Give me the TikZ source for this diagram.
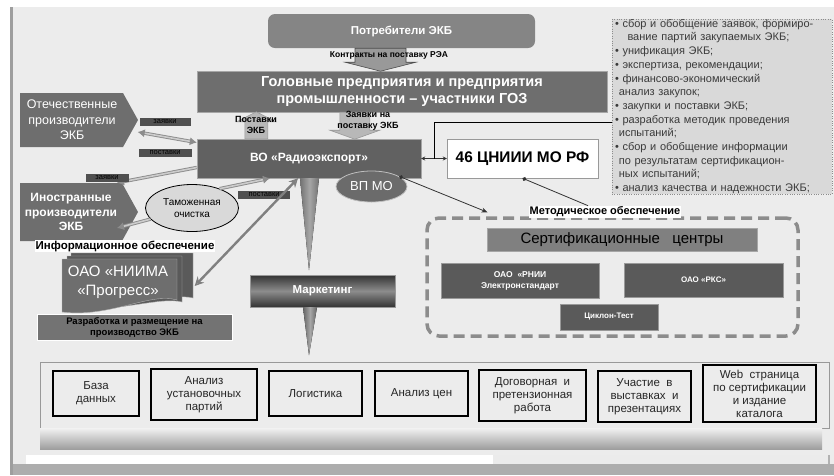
\documentclass[tikz,border=0pt]{standalone}
\usepackage{fontspec}
\setmainfont{Liberation Sans}
\usetikzlibrary{arrows.meta,shapes.geometric,calc}
\definecolor{panel}{HTML}{ECECEC}
\definecolor{potrc}{HTML}{858585}
\definecolor{dk}{HTML}{6E6E6E}
\definecolor{dk2}{HTML}{5A5A5A}
\definecolor{lbl}{HTML}{505050}
\definecolor{infofill}{HTML}{D9D9D9}
\definecolor{txtgray}{HTML}{3A3A3A}
\newcommand{\fz}[2]{\fontsize{#1}{#2}\selectfont}
\begin{document}
\begin{tikzpicture}[x=1pt,y=-1pt,
  box/.style={rectangle, inner sep=0pt, align=center},
  tag/.style={rectangle, fill=lbl, text=black, font=\fz{7.5}{8}, inner sep=1pt, minimum height=8},
  wlabel/.style={rectangle, fill=white, text=black, font=\fz{11.5}{12}\bfseries, inner sep=1pt},
  blk/.style={fill=#1, draw=black!70, line width=0.6pt},
  stripe/.style={draw=black!45, double=black!20, double distance=1.6pt, line width=0.9pt, -{Latex[length=7pt,width=8pt]}},
  bottombox/.style={box, draw=black, line width=1.1pt, font=\fz{11.5}{13}, text=black!85},
  subcert/.style={box, fill=dk2, draw=black!40, text=white, font=\fz{8.5}{11}\bfseries},
  thinarr/.style={draw=black!80, line width=0.8pt}
]
\useasboundingbox (0,0) rectangle (834,475);
% background panel
\fill[white] (0,0) rectangle (834,475);
\fill[black!32] (10,464) rectangle (834,475);
\fill[black!38] (10,7) rectangle (13,475);
\fill[panel] (13,7) rectangle (834,464);
\fill[white] (26,455) rectangle (493,464);
\fill[black!8] (493,455) rectangle (828,464);
\fill[black!30] (828,455) rectangle (830,464);

% info box
\node[box, draw=black!45, dotted, fill=infofill, minimum width=220, minimum height=167, anchor=center, text=txtgray,
  font=\fz{11}{13.7}, align=left, text width=214] (info) at (722,106.5)
{\textbullet~сбор и обобщение заявок, формиро-\\
\phantom{\textbullet~}\hspace{5pt}вание партий закупаемых ЭКБ;\\
\textbullet~унификация ЭКБ;\\
\textbullet~экспертиза, рекомендации;\\
\textbullet~финансово-экономический\\
\phantom{\textbullet}анализ закупок;\\
\textbullet~закупки и поставки ЭКБ;\\
\textbullet~разработка методик проведения\\
\phantom{\textbullet}испытаний;\\
\textbullet~сбор и обобщение информации\\
\phantom{\textbullet}по результатам сертификацион-\\
\phantom{\textbullet}ных испытаний;\\
\textbullet~анализ качества и надежности ЭКБ;};

% top nodes
\node[box, fill=potrc, rounded corners=7pt, minimum width=267, minimum height=34, font=\fz{11.5}{13}\bfseries, text=white] (potr) at (401.5,31) {Потребители ЭКБ};
\node[box, fill=dk, draw=black!35, minimum width=410, minimum height=41, font=\fz{14.5}{17}\bfseries, text=white] (golov) at (402,91.5)
  {Головные предприятия и предприятия\\промышленности -- участники ГОЗ};
\node[box, fill=black!62, draw=black!35, minimum width=224, minimum height=39, font=\fz{12}{14}\bfseries, text=white] (vo) at (309,158.5) {ВО «Радиоэкспорт»};
\node[box, fill=white, draw=black!40, minimum width=151, minimum height=39, font=\fz{15.4}{17}\bfseries, text=black] (cni) at (522.5,158.5) {46 ЦНИИИ МО РФ};

% block arrows
\draw[blk=black!40] ([xshift=-46.5pt]potr.south) -- ++(51,0) -- ++(0,14) -- ++(10,0) -- ++(-35.5,9) -- ++(-35.5,-9) -- ++(10,0) -- cycle;
\node[box, font=\fz{8.5}{10}\bfseries, text=black] (kontr) at (389,55) {Контракты на поставку РЭА};
\draw[fill=black!28, draw=black!40, line width=0.6pt] ([xshift=48pt]vo.north west) -- ++(23,0) -- ++(0,-17) -- ++(8,0) -- ++(-19.5,-10) -- ++(-19.5,10) -- ++(8,0) -- cycle;
\node[box, font=\fz{9}{10.5}\bfseries, text=black] (post) at (256,125) {Поставки\\ЭКБ};
\draw[fill=black!28, draw=black!40, line width=0.6pt] ([xshift=143pt]golov.south west) -- ++(30,0) -- ++(0,18) -- ++(10,0) -- ++(-25,9) -- ++(-25,-9) -- ++(10,0) -- cycle;
\node[box, font=\fz{9}{11}\bfseries, text=black] (zayav) at (368,121) {Заявки на\\поставку ЭКБ};

% VO - 46 and info connector
\draw[thinarr, {Stealth[length=4pt,width=4pt]}-{Stealth[length=4pt,width=4pt]}] (vo.east) -- (cni.west);
\coordinate (mid) at ($(vo.east)!0.5!(cni.west)$);
\draw[black, line width=1pt] (mid) |- ([yshift=-15.5pt]info.west);

% left side producers
\fill[dk] (20,93) -- (123,93) -- (138,120) -- (123,147) -- (20,147) -- cycle;
\node[box, minimum width=103, minimum height=54, font=\fz{12.5}{15.5}, text=white] (otech) at (72,120) {Отечественные\\производители\\ЭКБ};
\fill[dk] (20,183) -- (122,183) -- (138,212) -- (122,241) -- (20,241) -- cycle;
\node[box, minimum width=102, minimum height=58, font=\fz{12}{14.5}\bfseries, text=white] (inostr) at (71,212) {Иностранные\\производители\\ЭКБ};
\node[ellipse, fill=black!15, draw=black, line width=0.8pt, minimum width=93, minimum height=47, inner sep=0pt, align=center, font=\fz{10}{12}, text=black] (tam) at (192,208) {Таможенная\\очистка};

% striped connectors
\draw[stripe, {Latex[length=7pt,width=8pt]}-{Latex[length=7pt,width=8pt]}] ([yshift=16pt]vo.west) -- ([xshift=14pt,yshift=-12pt]otech.east);
\draw[stripe] ([yshift=-9pt]vo.west) -- ([xshift=46pt]inostr.north);
\draw[stripe] (tam.195) -- ([xshift=46pt,yshift=-16pt]inostr.center);
\draw[stripe] (tam.35) -- ([xshift=-39pt]vo.south);

\node[tag, minimum width=51] (t1) at (165,122) {заявки};
\node[tag, minimum width=53] (t2) at (165,153) {поставки};
\node[tag, minimum width=43] (t3) at (107,177.5) {заявки};
\node[tag, minimum width=52] (t4) at (264,195) {поставки};

% NIIMA stack
\draw[fill=dk2, draw=black!30] (71,253) -- (193,253) -- (193,298) .. controls (170,292) and (120,310) .. (71,302) -- cycle;
\draw[fill=dk2, draw=black!30] (67,256) -- (182,256) -- (182,302) .. controls (160,296) and (115,314) .. (67,307) -- cycle;
\draw[fill=dk, draw=black!30] (62,259) -- (177,259) -- (177,300) .. controls (150,292) and (110,318) .. (62,312) -- cycle;
\node[box, minimum width=115, minimum height=45, font=\fz{15}{19}, text=white] (niima) at (118,282) {ОАО «НИИМА\\«Прогресс»};
\node[wlabel] (info2) at (125,246) {Информационное обеспечение};
\node[box, fill=black!55, draw=white, line width=1pt, minimum width=195, minimum height=26, font=\fz{9.5}{11}\bfseries, text=black] (razr) at (134.5,327) {Разработка и размещение на\\производство ЭКБ};
\draw[draw=black!50, line width=2.4pt, {Stealth[length=9pt,width=9pt,open]}-{Stealth[length=9pt,width=9pt,open]}] ([xshift=-11pt]vo.south) -- ([xshift=19pt,yshift=-4pt]niima.east);

% marketing
\fill[left color=black!55, right color=black!55, middle color=black!35] ([xshift=-9pt]vo.south) -- ([xshift=10pt]vo.south) -- ++(-10,92) -- cycle;
\node[box, top color=black!80, bottom color=black!80, middle color=black!45, draw=black!40, minimum width=145, minimum height=32, font=\fz{11.5}{13}\bfseries, text=white] (mark) at (322.5,291) {Маркетинг};
\fill[left color=black!60, right color=black!60, middle color=black!35] ([xshift=-19.5pt]mark.south) -- ([xshift=-5.5pt]mark.south) -- ++(-8,48) -- cycle;

% VP MO
\node[ellipse, fill=black!58, draw=black!25, line width=0.8pt, minimum width=71, minimum height=31, inner sep=0pt, font=\fz{13}{14}, text=white] (vpmo) at (371.5,186.5) {ВП МО};

% certification block
\node[box, draw=black!45, dashed, dash pattern=on 11pt off 6pt, line width=3.5pt, rounded corners=12pt, minimum width=371, minimum height=118] (cert) at (612.5,277) {};
\node[box, fill=black!50, draw=black!35, minimum width=270, minimum height=23, font=\fz{15}{17}, text=black] (certh) at (622,239.5) {Сертификационные\ \ \ центры};
\node[subcert, minimum width=158, minimum height=35] (rnii) at (520,280.5) {ОАО\ \ «РНИИ\\Электронстандарт};
\node[subcert, minimum width=159, minimum height=34, font=\fz{8}{10}\bfseries] (rks) at (703.5,280) {ОАО «РКС»};
\node[subcert, minimum width=98, minimum height=26, font=\fz{8}{10}\bfseries] (cikl) at (609,317) {Циклон-Тест};
\node[wlabel, font=\fz{11}{12}\bfseries] (metod) at (605,212) {Методическое обеспечение};

\draw[thinarr, {Circle[length=4pt]}-{Stealth[length=6pt,width=5pt]}] (vpmo.20) -- ([xshift=-125pt,yshift=4pt]cert.north);
\draw[thinarr, {Circle[length=4pt]}-] (cni.south) -- ([xshift=-17pt]metod.north);

% bottom row
\node[box, draw=black!40, fill=panel, line width=0.8pt, minimum width=789, minimum height=66] (cont) at (434.5,395) {};
\fill[top color=black!5, bottom color=black!38] (40,428) rectangle (822,449);
\node[bottombox, minimum width=86, minimum height=45] (b1) at (96,393.5) {База\\данных};
\node[bottombox, minimum width=106, minimum height=51] (b2) at (204,394.5) {Анализ\\установочных\\партий};
\node[bottombox, minimum width=93, minimum height=45] (b3) at (315.5,393.5) {Логистика};
\node[bottombox, minimum width=93, minimum height=45] (b4) at (421.5,393.5) {Анализ цен};
\node[bottombox, minimum width=107, minimum height=51] (b5) at (532.5,395.5) {Договорная\ \ и\\претензионная\\работа};
\node[bottombox, minimum width=93, minimum height=51] (b6) at (644.5,396.5) {Участие\ \ в\\выставках\ \ и\\презентациях};
\node[bottombox, minimum width=113, minimum height=57] (b7) at (759.5,393.5) {Web\ \ страница\\по сертификации\\и издание\\каталога};
\end{tikzpicture}
\end{document}
